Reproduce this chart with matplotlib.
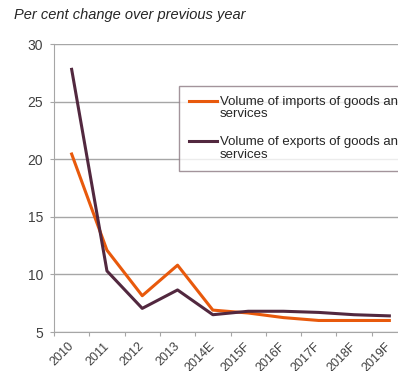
import matplotlib.pyplot as plt
from matplotlib.legend_handler import HandlerLine2D
import numpy as np

plt.rcParams['font.family'] = ['Liberation Sans', 'DejaVu Sans']

years = ['2010', '2011', '2012', '2013', '2014E', '2015F', '2016F', '2017F', '2018F', '2019F']
imports = [20.45, 12.1, 8.15, 10.8, 6.9, 6.65, 6.25, 6.0, 6.0, 6.0]
exports = [27.8, 10.3, 7.05, 8.65, 6.5, 6.8, 6.8, 6.7, 6.5, 6.4]

orange = '#E8590C'
plum = '#52283F'
grid = '#A6A6A6'


class FirstLineHandler(HandlerLine2D):
    # Excel puts the legend key next to the first text line, not the middle
    def create_artists(self, legend, orig_handle, xdescent, ydescent, width, height, fontsize, trans):
        arts = super().create_artists(legend, orig_handle, xdescent, ydescent, width, height, fontsize, trans)
        for a in arts:
            a.set_ydata(np.asarray(a.get_ydata()) + 0.53 * fontsize)
        return arts


fig = plt.figure(figsize=(3.98, 3.71), dpi=100)
ax = fig.add_axes([54 / 398, 39 / 371, 353 / 398, 288 / 371])

x = np.arange(len(years))
l1, = ax.plot(x, imports, color=orange, lw=2.2, label='Volume of imports of goods and\nservices', zorder=3)
l2, = ax.plot(x, exports, color=plum, lw=2.2, label='Volume of exports of goods and\nservices', zorder=3)

ax.set_xlim(-0.5, len(years) - 0.5)
ax.set_ylim(5, 30)
ax.set_yticks([5, 10, 15, 20, 25, 30])
ax.yaxis.grid(True, color=grid, lw=1)
ax.set_axisbelow(True)

# ticks at category boundaries, labels at centres
ax.set_xticks(np.arange(-0.5, len(years)), [''] * (len(years) + 1))
ax.set_xticks(x, years, minor=True)
ax.tick_params(axis='x', which='major', length=3, color=grid, direction='out')
ax.tick_params(axis='x', which='minor', length=0, pad=9, labelsize=9, labelcolor='#404040')
for lbl in ax.get_xticklabels(minor=True):
    lbl.set_rotation(45)
    lbl.set_ha('right')
    lbl.set_va('center')
    lbl.set_rotation_mode('anchor')
ax.tick_params(axis='y', length=3, color=grid, labelsize=10, labelcolor='#404040', pad=5)

for s in ['top', 'right']:
    ax.spines[s].set_visible(False)
for s in ['left', 'bottom']:
    ax.spines[s].set_color(grid)

leg = fig.legend(handles=[l1, l2], loc='upper left', bbox_to_anchor=(179 / 398, 1 - 86 / 371),
                 borderaxespad=0, fontsize=9.5, frameon=True, fancybox=False,
                 handlelength=2.1, handletextpad=0.25, labelspacing=1.2, borderpad=0.75,
                 labelcolor='#262626', handler_map={l1: FirstLineHandler(), l2: FirstLineHandler()})
for t in leg.get_texts():
    t.set_linespacing(1.05)
leg.get_frame().set_edgecolor('#8C7A82')
leg.get_frame().set_linewidth(1)

fig.text(14 / 398, 1 - 15 / 371, 'Per cent change over previous year', fontsize=10.5,
         style='italic', color='#262626', va='center')

fig.savefig('out.png', dpi=100)
